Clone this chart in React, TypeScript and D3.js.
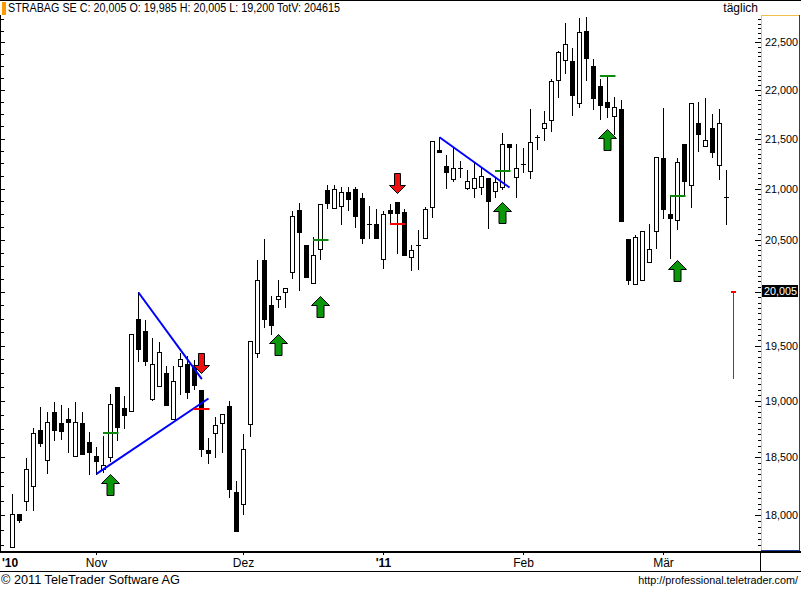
import React from "react";
import * as d3 from "d3";

// ---------- data (EUR, daily, STRABAG SE) ----------
const opens = [
  17.73, 18.01, 18.12, 18.25, 18.74, 18.48, 18.895, 18.8, 18.835, 18.515,
  18.8, 18.63, 18.515, 18.395, 18.5, 19.12, 18.935, 18.905, 19.745, 19.635,
  19.015, 19.13, 19.25, 18.835, 19.31, 19.33, 19.305, 19.095, 18.56, 18.71,
  18.805, 18.95, 18.2, 18.095, 18.795, 19.43, 20.3, 19.875, 19.93, 19.995,
  20.19, 20.785, 20.445, 20.085, 20.41, 20.99, 20.805, 20.825, 20.965, 21.0,
  20.905, 20.65, 20.65, 20.31, 20.785, 20.865, 20.765, 20.33, 20.445, 20.515,
  20.815, 21.385, 21.225, 21.095, 21.205, 21.01, 21.01, 21.02, 21.105, 20.975,
  21.02, 21.445, 21.115, 21.245, 21.175, 21.515, 21.605, 21.69, 22.1, 22.31,
  22.3, 21.865, 22.62, 22.25, 22.04, 21.875, 21.73, 21.8, 20.505, 20.075,
  20.11, 20.285, 20.58, 21.305, 20.75, 20.69, 21.445, 21.035, 21.66, 21.425,
  21.605, 21.235, 20.915, 19.985,
];
const highs = [
  18.18, 18.015, 18.49, 18.755, 18.94, 18.895, 18.985, 18.96, 18.935, 18.985,
  18.895, 18.725, 18.59, 18.69, 19.06, 19.125, 19.04, 19.605, 19.995, 19.74,
  19.57, 19.53, 19.31, 19.31, 19.43, 19.405, 19.37, 19.095, 18.665, 18.855,
  18.88, 19.0, 18.295, 18.705, 19.54, 20.305, 20.505, 19.96, 20.11, 20.035,
  20.775, 20.855, 20.445, 20.525, 20.845, 21.035, 21.035, 21.02, 21.02, 21.02,
  20.955, 20.825, 20.795, 20.775, 20.845, 20.865, 20.795, 20.445, 20.59, 20.815,
  21.475, 21.515, 21.335, 21.405, 21.275, 21.185, 21.255, 21.205, 21.105, 21.115,
  21.555, 21.445, 21.445, 21.405, 21.8, 21.535, 21.78, 22.11, 22.405, 22.705,
  22.435, 22.755, 22.77, 22.32, 22.11, 22.135, 21.925, 21.895, 20.505, 20.54,
  20.58, 20.65, 21.315, 21.81, 20.925, 21.305, 21.445, 21.865, 21.875, 21.915,
  21.75, 21.8, 21.185, 20.005,
];
const lows = [
  17.73, 17.94, 18.045, 18.045, 18.595, 18.365, 18.65, 18.66, 18.55, 18.515,
  18.525, 18.355, 18.355, 18.375, 18.47, 18.65, 18.755, 18.905, 19.355, 19.32,
  19.005, 19.13, 18.96, 18.835, 19.06, 19.02, 19.105, 18.51, 18.45, 18.505,
  18.55, 18.155, 17.87, 18.01, 18.69, 19.395, 19.67, 19.605, 19.855, 19.855,
  20.13, 20.02, 20.14, 20.085, 20.31, 20.805, 20.805, 20.65, 20.785, 20.62,
  20.465, 20.515, 20.515, 20.225, 20.66, 20.37, 20.35, 20.205, 20.215, 20.515,
  20.72, 21.37, 21.01, 21.075, 21.115, 21.0, 20.915, 20.945, 20.61, 20.915,
  21.0, 21.185, 20.915, 21.165, 21.105, 21.395, 21.485, 21.575, 21.925, 22.175,
  21.74, 21.82, 22.1, 21.8, 21.7, 21.72, 21.545, 20.68, 20.075, 20.075,
  20.11, 20.285, 20.415, 20.71, 20.32, 20.6, 20.925, 20.815, 21.375, 21.425,
  21.315, 21.095, 20.65, 19.2,
];
const closes = [
  18.01, 17.96, 18.395, 18.71, 18.625, 18.81, 18.74, 18.73, 18.81, 18.81,
  18.525, 18.55, 18.465, 18.43, 18.97, 18.77, 18.87, 19.605, 19.465, 19.36,
  19.33, 19.44, 18.96, 19.175, 19.375, 19.075, 19.14, 18.57, 18.54, 18.78,
  18.88, 18.225, 17.87, 18.57, 19.54, 20.11, 19.745, 19.695, 19.96, 20.035,
  20.73, 20.57, 20.14, 20.35, 20.845, 20.855, 21.0, 20.965, 20.895, 20.73,
  20.515, 20.65, 20.515, 20.75, 20.755, 20.755, 20.35, 20.4, 20.445, 20.795,
  21.475, 21.37, 21.165, 21.205, 21.205, 21.075, 21.105, 21.125, 20.875, 21.065,
  21.445, 21.415, 21.205, 21.245, 21.465, 21.515, 21.66, 22.09, 22.395, 22.48,
  21.945, 22.605, 22.33, 21.915, 21.84, 21.82, 21.82, 20.68, 20.11, 20.525,
  20.58, 20.41, 21.315, 20.795, 20.71, 21.265, 21.075, 21.865, 21.545, 21.485,
  21.365, 21.66, 20.915, 20.005,
];

const priceLabels = [18, 18.5, 19, 19.5, 20.5, 21, 21.5, 22, 22.5];
const lastPrice = 20.005;
const monthTickIdx = [12, 33, 53, 73, 93];
const monthTickText = ["Nov", "Dez", "'11", "Feb", "Mär"];
const monthTickBold = [false, false, true, false, false];
const firstYearLabel = "'10";

// trend lines: [startIndex, startPrice, endIndex, endPrice]
const trendLines = [
  [12, 18.355, 28, 19.02],
  [18, 19.995, 27.05, 19.195],
  [61, 21.515, 71, 21.01],
];
// signal levels: [fromIndex, toIndex, price]
const greenLevels = [
  [13, 15, 18.715],
  [43, 45, 20.495],
  [69, 71, 21.17],
  [84, 86, 22.14],
  [94, 96, 20.925],
];
const redLevels = [
  [26, 28, 18.93],
  [54, 56, 20.655],
];
// arrows: [index, tipPrice]
const upArrows = [
  [14, 18.355],
  [38, 19.61],
  [44, 19.965],
  [70, 20.865],
  [85, 21.595],
  [95, 20.3],
];
const downArrows = [
  [27, 19.25],
  [55, 20.955],
];

const title = "STRABAG SE C: 20,005 O: 19,985 H: 20,005 L: 19,200 TotV: 204615";
const copyright = "© 2011 TeleTrader Software AG";
const url = "http://professional.teletrader.com/";

// ---------- layout ----------
const W = 801;
const H = 589;
const plotTop = 15;
const plotBottom = 551;
const plotRight = 761;
const FONT = "'Liberation Sans', Arial, sans-serif";

const fmt = (v: number) => v.toFixed(3).replace(".", ",");
const px = (v: number) => Math.round(v) + 0.5;

export default function App() {
  const n = closes.length;
  const x = d3.scaleLinear().domain([0, n - 1]).range([12.5, 733.5]);
  const y = d3.scaleLog().domain([18, 22.5]).range([515.3, 42.3]);

  const rightMinor = d3.range(17.65, 22.76, 0.05).filter((v) => y(v) > plotTop + 1 && y(v) < plotBottom - 1);
  const leftMinor = d3.range(17.625, 22.76, 0.125).filter((v) => y(v) > plotTop + 1 && y(v) < plotBottom - 1);

  const upArrowPath = (xc: number, tip: number) =>
    `M${xc},${tip} L${xc + 9},${tip + 9} L${xc + 3.5},${tip + 9} L${xc + 3.5},${tip + 21} L${xc - 3.5},${tip + 21} L${xc - 3.5},${tip + 9} L${xc - 9},${tip + 9} Z`;
  const downArrowPath = (xc: number, tip: number) =>
    `M${xc},${tip} L${xc + 8},${tip - 8} L${xc + 3},${tip - 8} L${xc + 3},${tip - 20} L${xc - 3},${tip - 20} L${xc - 3},${tip - 8} L${xc - 8},${tip - 8} Z`;

  return (
    <div style={{ position: "fixed", left: 0, top: 0, width: W, height: H, background: "#fff" }}>
      <svg width={W} height={H} style={{ display: "block", fontFamily: FONT }}>
        <rect x={0} y={0} width={W} height={H} fill="#fff" />
        <defs>
          <clipPath id="plotClip">
            <rect x={1} y={plotTop} width={plotRight - 1} height={plotBottom - plotTop} />
          </clipPath>
        </defs>

        {/* header */}
        <line x1={0} x2={W} y1={0.5} y2={0.5} stroke="#000" />
        <rect x={2} y={2} width={4} height={13} fill="#ff9900" />
        <text x={8} y={12} fontSize={12} fill="#000" textLength={332} lengthAdjust="spacingAndGlyphs">{title}</text>
        <text x={758} y={12} fontSize={12} fill="#000" textAnchor="end">täglich</text>

        {/* left axis */}
        <line x1={0.5} x2={0.5} y1={plotTop} y2={plotBottom} stroke="#000" />
        {leftMinor.map((v, k) => {
          const major = Math.abs(v * 2 - Math.round(v * 2)) < 1e-6;
          return <line key={"lt" + k} x1={0} x2={major ? 5 : 4} y1={px(y(v))} y2={px(y(v))} stroke="#000" />;
        })}

        {/* right axis panel */}
        {rightMinor.map((v, k) => {
          const major = Math.abs(v * 2 - Math.round(v * 2)) < 1e-6;
          return <line key={"rt" + k} x1={major ? 755 : 758} x2={761} y1={px(y(v))} y2={px(y(v))} stroke="#000" />;
        })}
        <line x1={761.5} x2={761.5} y1={plotTop} y2={plotBottom} stroke="#f0c04a" />
        <line x1={761} x2={800} y1={15.5} y2={15.5} stroke="#f0c04a" />
        <line x1={799.5} x2={799.5} y1={15} y2={551} stroke="#1d3b9e" />
        <line x1={761} x2={800} y1={550.5} y2={550.5} stroke="#1d3b9e" />
        {priceLabels.map((v) => (
          <text key={"pl" + v} x={765} y={y(v) + 4} fontSize={11.5} fill="#000" textLength={33} lengthAdjust="spacingAndGlyphs">{fmt(v)}</text>
        ))}
        <rect x={762} y={Math.round(y(lastPrice)) - 6} width={36} height={12} fill="#000" />
        <text x={764} y={y(lastPrice) + 4} fontSize={11.5} fill="#fff" textLength={33} lengthAdjust="spacingAndGlyphs">{fmt(lastPrice)}</text>

        {/* candles */}
        <g clipPath="url(#plotClip)">
          {closes.map((c, i) => {
            const o = opens[i];
            const xc = x(i);
            const last = i === n - 1;
            const col = last ? "#ff0000" : "#000";
            const top = px(y(Math.max(o, c)));
            const bot = px(y(Math.min(o, c)));
            return (
              <g key={"c" + i}>
                <line x1={xc} x2={xc} y1={Math.round(y(highs[i]))} y2={Math.round(y(lows[i])) + 1} stroke={col} />
                {last ? (
                  <rect x={xc - 2.5} y={Math.round(y(c))} width={5} height={2} fill={col} />
                ) : bot - top < 1 ? (
                  <line x1={xc - 2.5} x2={xc + 2.5} y1={top} y2={top} stroke={col} />
                ) : (
                  <rect x={xc - 2} y={top} width={4} height={bot - top} fill={c >= o ? "#fff" : "#000"} stroke="#000" />
                )}
              </g>
            );
          })}

          {/* trend lines */}
          {trendLines.map((t, k) => (
            <line key={"tl" + k} x1={x(t[0])} y1={y(t[1])} x2={x(t[2])} y2={y(t[3])} stroke="#0000ff" strokeWidth={2} />
          ))}

          {/* signal levels */}
          {greenLevels.map((g, k) => (
            <line key={"gl" + k} x1={x(g[0]) - 0.5} x2={x(g[1]) + 1} y1={Math.round(y(g[2]))} y2={Math.round(y(g[2]))} stroke="#0b8a0b" strokeWidth={2} />
          ))}
          {redLevels.map((g, k) => (
            <line key={"rl" + k} x1={x(g[0]) - 0.5} x2={x(g[1]) + 1} y1={Math.round(y(g[2]))} y2={Math.round(y(g[2]))} stroke="#ff0000" strokeWidth={2} />
          ))}

          {/* arrows */}
          {upArrows.map((a, k) => (
            <path key={"ua" + k} d={upArrowPath(x(a[0]), Math.round(y(a[1])) + 0.5)} fill="#0a980a" stroke="#000" strokeWidth={1} />
          ))}
          {downArrows.map((a, k) => (
            <path key={"da" + k} d={downArrowPath(x(a[0]), Math.round(y(a[1])) + 0.5)} fill="#ee1111" stroke="#000" strokeWidth={1} />
          ))}
        </g>

        {/* x axis band */}
        <line x1={0} x2={W} y1={552} y2={552} stroke="#000" strokeWidth={2} />
        <line x1={0} x2={W} y1={571.5} y2={571.5} stroke="#000" />
        <line x1={760.5} x2={760.5} y1={553} y2={571} stroke="#000" />
        {monthTickIdx.map((idx, k) => (
          <g key={"mt" + k}>
            <line x1={x(idx)} x2={x(idx)} y1={553} y2={555} stroke="#000" />
            <text x={x(idx)} y={567} fontSize={12} textAnchor="middle" fontWeight={monthTickBold[k] ? "bold" : "normal"} fill="#000">
              {monthTickText[k]}
            </text>
          </g>
        ))}
        <text x={2} y={567} fontSize={12} fontWeight="bold" fill="#000">{firstYearLabel}</text>

        {/* footer */}
        <text x={1} y={584} fontSize={12} fill="#000" textLength={179} lengthAdjust="spacingAndGlyphs">{copyright}</text>
        <text x={798} y={584} fontSize={10.8} fill="#000" textAnchor="end">{url}</text>
      </svg>
    </div>
  );
}
